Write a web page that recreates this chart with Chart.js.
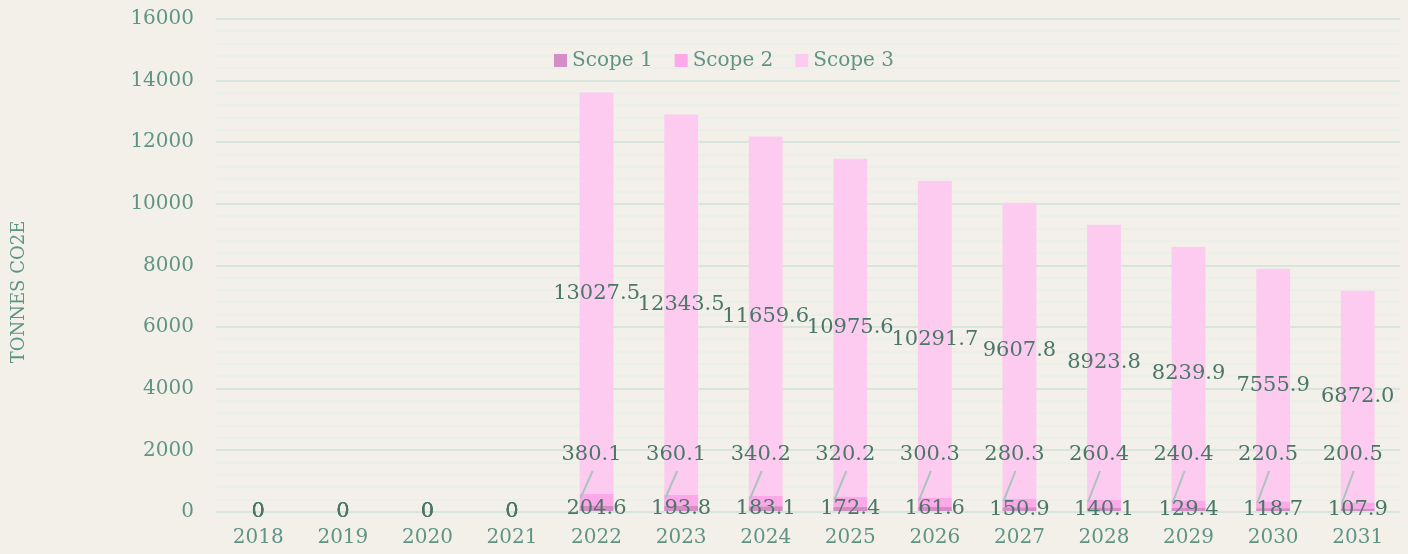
<!DOCTYPE html>
<html>
<head>
<meta charset="utf-8">
<script src="https://cdn.jsdelivr.net/npm/chart.js@4.4.0/dist/chart.umd.min.js"></script>
<style>
  html, body { margin: 0; padding: 0; background: #f3f0ea; }
  #wrap { width: 1408px; height: 554px; }
</style>
</head>
<body>
<div id="wrap"><canvas id="emissions" width="1408" height="554"></canvas></div>
<script>
const years = ['2018', '2019', '2020', '2021', '2022', '2023', '2024', '2025', '2026', '2027', '2028', '2029', '2030', '2031'];
const scope1 = [0, 0, 0, 0, 204.6, 193.8, 183.1, 172.4, 161.6, 150.9, 140.1, 129.4, 118.7, 107.9];
const scope2 = [0, 0, 0, 0, 380.1, 360.1, 340.2, 320.2, 300.3, 280.3, 260.4, 240.4, 220.5, 200.5];
const scope3 = [0, 0, 0, 0, 13027.5, 12343.5, 11659.6, 10975.6, 10291.7, 9607.8, 8923.8, 8239.9, 7555.9, 6872.0];
const seriesNames = ['Scope 1', 'Scope 2', 'Scope 3'];
const yMax = 16000;
const yMajorStep = 2000;
const yMinorStep = 400;
const yTitle = 'TONNES CO2E';

const colors = ['#d48ec5', '#fca8e9', '#fdcbf0'];
const tickColor = '#5f9484';
const labelColor = '#4a7767';
const font = '"DejaVu Serif", "Liberation Serif", serif';

// data labels, leader lines, legend and the rotated axis title
const extras = {
    id: 'extras',
    afterDatasetsDraw(chart) {
        const ctx = chart.ctx;
        const base = chart.scales.y.getPixelForValue(0);
        ctx.save();
        ctx.font = '21px ' + font;
        ctx.textAlign = 'center';
        ctx.textBaseline = 'middle';
        chart.data.datasets.forEach((ds, di) => {
            const meta = chart.getDatasetMeta(di);
            meta.data.forEach((bar, i) => {
                const v = ds.data[i];
                if (v == null) return;
                const txt = v === 0 ? '0' : v.toFixed(1);
                let x = bar.x;
                let y = (bar.y + bar.base) / 2;
                if (di === 1 && v !== 0) {
                    const lx = bar.x - 5, ly = base - 57;
                    ctx.strokeStyle = '#a8c5bc';
                    ctx.lineWidth = 2;
                    ctx.beginPath();
                    ctx.moveTo(lx + 1, ly + 16);
                    ctx.lineTo(bar.x - bar.width / 2 + 1, y - 2);
                    ctx.stroke();
                    x = lx;
                    y = ly;
                }
                ctx.fillStyle = labelColor;
                ctx.fillText(txt, x, y);
            });
        });

        // legend
        ctx.font = '20px ' + font;
        ctx.textAlign = 'left';
        const box = 13, gap = 5, space = 22;
        const widths = seriesNames.map(n => box + gap + ctx.measureText(n).width);
        const total = widths.reduce((a, b) => a + b, 0) + space * (widths.length - 1);
        let lx = chart.width / 2 + 20 - total / 2;
        const ly = 61;
        seriesNames.forEach((n, i) => {
            ctx.fillStyle = colors[i];
            ctx.fillRect(lx, ly - 7, box, box);
            ctx.fillStyle = tickColor;
            ctx.fillText(n, lx + box + gap, ly);
            lx += widths[i] + space;
        });

        // y axis title
        ctx.font = '18px ' + font;
        ctx.textAlign = 'center';
        ctx.translate(19, 292);
        ctx.rotate(-Math.PI / 2);
        ctx.fillStyle = tickColor;
        ctx.fillText(yTitle, 0, 0);
        ctx.restore();
    }
};

new Chart(document.getElementById('emissions').getContext('2d'), {
    type: 'bar',
    data: {
        labels: years,
        datasets: seriesNames.map((name, i) => ({
            label: name,
            data: [scope1, scope2, scope3][i],
            backgroundColor: colors[i],
            borderWidth: 0,
            categoryPercentage: 1,
            barPercentage: 0.4
        }))
    },
    options: {
        responsive: false,
        animation: false,
        devicePixelRatio: 1,
        layout: { padding: { left: 0, right: 8, top: 19, bottom: 0 } },
        plugins: { legend: { display: false }, tooltip: { enabled: false } },
        scales: {
            x: {
                stacked: true,
                grid: { display: false },
                border: { display: false },
                ticks: { color: tickColor, font: { family: font, size: 20 }, padding: 6 },
                afterFit: s => { s.height = 42; s.paddingLeft = 0; s.paddingRight = 0; }
            },
            y: {
                stacked: true,
                min: 0,
                max: yMax,
                border: { display: false },
                grid: {
                    drawTicks: false,
                    color: c => c.tick.value % yMajorStep === 0 ? '#d8e5df' : '#eaefea',
                    lineWidth: 2
                },
                ticks: {
                    stepSize: yMinorStep,
                    autoSkip: false,
                    padding: 22,
                    color: tickColor,
                    font: { family: font, size: 20 },
                    callback: v => v % yMajorStep === 0 ? v : ''
                },
                afterFit: s => { s.width = 216; s.paddingTop = 0; s.paddingBottom = 0; }
            }
        }
    },
    plugins: [extras]
});
</script>
</body>
</html>
